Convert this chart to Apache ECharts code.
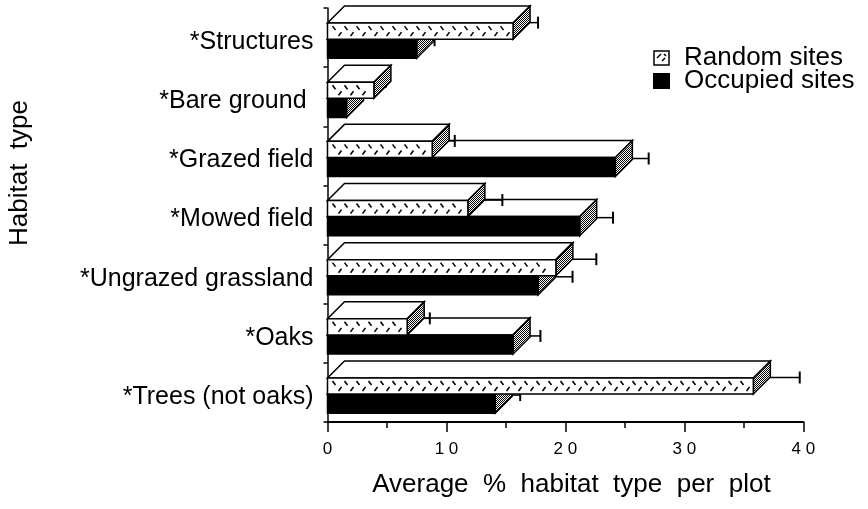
<!DOCTYPE html>
<html>
<head>
<meta charset="utf-8">
<script src="https://cdn.jsdelivr.net/npm/echarts@6/dist/echarts.min.js"></script>
<style>
  html, body { margin: 0; padding: 0; background: #fff; }
  #chart { width: 868px; height: 509px; }
</style>
</head>
<body>
<div id="chart"></div>
<script>
// habitat categories, top to bottom
const categories = ['*Structures', '*Bare ground ', '*Grazed field', '*Mowed field', '*Ungrazed grassland', '*Oaks', '*Trees (not oaks)'];
// average % habitat per plot and standard error
const randomMean = [15.6, 3.9, 8.8, 11.8, 19.2, 6.7, 35.8];
const randomSE = [2.1, 1.0, 1.9, 2.9, 3.4, 1.9, 3.9];
const occupiedMean = [7.5, 1.6, 24.2, 21.2, 17.7, 15.6, 14.1];
const occupiedSE = [1.5, 0.7, 2.8, 2.8, 2.9, 2.3, 2.1];

const FONT = 'Liberation Sans, Arial, sans-serif';

// grey stipple for the side faces
const stipple = document.createElement('canvas');
stipple.width = 2; stipple.height = 2;
(function () {
  const ctx = stipple.getContext('2d');
  ctx.fillStyle = '#fff'; ctx.fillRect(0, 0, 2, 2);
  ctx.fillStyle = '#000'; ctx.fillRect(0, 0, 1, 1); ctx.fillRect(1, 1, 1, 1);
})();

// legend icons
function iconUrl(random) {
  const c = document.createElement('canvas');
  c.width = 17; c.height = 16;
  const ctx = c.getContext('2d');
  ctx.fillStyle = random ? '#fff' : '#000';
  ctx.fillRect(0, 0, 17, 16);
  if (random) {
    ctx.strokeStyle = '#000'; ctx.lineWidth = 1.5;
    ctx.strokeRect(1, 1, 15, 14);
    ctx.beginPath();
    ctx.moveTo(4, 8); ctx.lineTo(8, 4);
    ctx.moveTo(9, 11); ctx.lineTo(12, 8);
    ctx.moveTo(11, 4); ctx.lineTo(13, 6);
    ctx.stroke();
  }
  return 'image://' + c.toDataURL();
}

function boxRenderer(isRandom) {
  return function (params, api) {
    const cat = api.value(0);
    const mean = api.value(1);
    const se = api.value(2);
    const c0 = api.coord([0, cat]);
    const cf = api.coord([mean, cat]);
    const ce = api.coord([mean + se, cat]);
    const band = api.size([0, 1])[1];
    const T = c0[1] - band / 2;
    const yt = T + band * (isRandom ? 0.255 : 0.527);
    const yb = T + band * (isRandom ? 0.527 : 0.85);
    const x0 = c0[0], xf = cf[0];
    const dx = 17, dy = 17;
    const yc = (yt + yb) / 2 - dy / 2;
    const line = { stroke: '#000', lineWidth: 1.5 };
    const children = [
      { type: 'line', shape: { x1: xf + dx / 2, y1: yc, x2: ce[0], y2: yc }, style: line },
      { type: 'line', shape: { x1: ce[0], y1: yc - 6, x2: ce[0], y2: yc + 6 }, style: { stroke: '#000', lineWidth: 2 } },
      { type: 'polygon', shape: { points: [[x0, yt], [xf, yt], [xf + dx, yt - dy], [x0 + dx, yt - dy]] },
        style: { fill: '#fff', stroke: '#000', lineWidth: 1.5 } },
      { type: 'polygon', shape: { points: [[xf, yt], [xf + dx, yt - dy], [xf + dx, yb - dy], [xf, yb]] },
        style: { fill: { image: stipple, repeat: 'repeat' }, stroke: '#000', lineWidth: 1.5 } },
      { type: 'rect', shape: { x: x0, y: yt, width: xf - x0, height: yb - yt },
        style: { fill: isRandom ? '#fff' : '#000', stroke: '#000', lineWidth: 1.5 } }
    ];
    if (isRandom) {
      for (let x = x0 + 5; x + 9 < xf; x += 12) {
        children.push({ type: 'line', shape: { x1: x, y1: yt + 3, x2: x + 3, y2: yt + 7 }, style: line });
        children.push({ type: 'line', shape: { x1: x + 6, y1: yb - 3, x2: x + 9, y2: yb - 7 }, style: line });
      }
    }
    return { type: 'group', children: children };
  };
}

const chart = echarts.init(document.getElementById('chart'), null, { renderer: 'canvas' });

const option = {
  animation: false,
  backgroundColor: '#fff',
  textStyle: { fontFamily: FONT, color: '#000' },
  grid: { left: 327.5, right: 64.7, top: 8, bottom: 87 },
  legend: {
    orient: 'vertical',
    left: 648,
    top: 40,
    itemWidth: 17,
    itemHeight: 16,
    itemGap: -3,
    textStyle: { fontFamily: FONT, fontSize: 26, color: '#000', padding: [0, 0, 0, 9] },
    data: [
      { name: 'Random sites', icon: iconUrl(true) },
      { name: 'Occupied sites', icon: iconUrl(false) }
    ]
  },
  xAxis: {
    type: 'value',
    min: 0,
    max: 40,
    interval: 10,
    name: 'Average  %  habitat  type  per  plot',
    nameLocation: 'middle',
    nameGap: 50,
    nameTextStyle: { fontFamily: FONT, fontSize: 26, color: '#000', padding: [0, 0, 0, 12] },
    axisLine: { show: true, lineStyle: { color: '#000', width: 2 } },
    axisTick: { show: true, length: 10, lineStyle: { color: '#000', width: 1.5 } },
    minorTick: { show: true, splitNumber: 2, length: 6, lineStyle: { color: '#000', width: 1.5 } },
    splitLine: { show: false },
    axisLabel: {
      margin: 19,
      fontFamily: FONT,
      fontSize: 17,
      color: '#000',
      formatter: v => String(v).split('').join(' ')
    }
  },
  yAxis: {
    type: 'category',
    data: categories,
    inverse: true,
    axisLine: { show: true, lineStyle: { color: '#000', width: 1.5 } },
    axisTick: { show: true, length: 4, lineStyle: { color: '#000', width: 1.5 } },
    splitLine: { show: false },
    axisLabel: { margin: 14, fontFamily: FONT, fontSize: 25, color: '#000', verticalAlign: 'top', lineHeight: 9 }
  },
  graphic: [{
    type: 'text',
    x: 20,
    y: 173,
    rotation: Math.PI / 2,
    style: { text: 'Habitat  type', fontFamily: FONT, fontSize: 26, fill: '#000', align: 'center', verticalAlign: 'middle' }
  }],
  series: [
    {
      name: 'Occupied sites',
      type: 'custom',
      z: 2,
      itemStyle: { color: '#000' },
      renderItem: boxRenderer(false),
      encode: { x: 1, y: 0 },
      data: occupiedMean.map((m, i) => [i, m, occupiedSE[i]])
    },
    {
      name: 'Random sites',
      type: 'custom',
      z: 3,
      itemStyle: { color: '#fff' },
      renderItem: boxRenderer(true),
      encode: { x: 1, y: 0 },
      data: randomMean.map((m, i) => [i, m, randomSE[i]])
    }
  ]
};

chart.setOption(option);
</script>
</body>
</html>
